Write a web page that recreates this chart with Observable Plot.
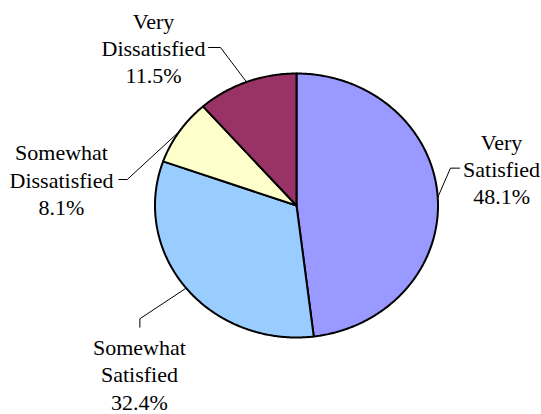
<!DOCTYPE html>
<html><head><meta charset="utf-8">
<script src="https://cdn.jsdelivr.net/npm/d3@7"></script>
<script src="https://cdn.jsdelivr.net/npm/@observablehq/plot@0.6"></script>
<style>html,body{margin:0;padding:0;background:#fff;}</style>
</head><body><div id="chart"></div>
<script>
// ---- data ----
const categories = ["Very Satisfied", "Somewhat Satisfied", "Somewhat Dissatisfied", "Very Dissatisfied"];
const labelText = ["Very\nSatisfied", "Somewhat\nSatisfied", "Somewhat\nDissatisfied", "Very\nDissatisfied"];
const percents = [48.1, 32.4, 8.1, 11.5];

// ---- style / layout (unit-radius pie coordinates) ----
const colors = ["#9999FF", "#99CCFF", "#FFFFCC", "#993366"];
const labelPos = [[1.449, 0.283], [-1.110, -1.275], [-1.661, 0.202], [-1.011, 1.199]];
const leaderElbow = [[1.088, 0.283], [-1.107, -0.858], [-1.196, 0.197], [-0.537, 1.197]];
const leaderEnd = [[1.152, 0.283], [-1.107, -0.922], [-1.256, 0.197], [-0.622, 1.197]];

const W = 541, H = 414, cx = 296, cy = 205, rx = 141.5, ry = 132;

const total = d3.sum(percents);
let acc = 0;
const slices = percents.map((p, i) => {
  const a0 = acc / total * 2 * Math.PI;
  acc += p;
  const a1 = acc / total * 2 * Math.PI;
  return {i, name: categories[i], p, a0, a1, mid: (a0 + a1) / 2};
});

function slicePoints(s) {
  const pts = [{x: 0, y: 0}];
  const n = Math.max(2, Math.ceil((s.a1 - s.a0) / (Math.PI / 360)));
  for (let k = 0; k <= n; k++) {
    const a = s.a0 + (s.a1 - s.a0) * k / n;
    pts.push({x: Math.sin(a), y: Math.cos(a)});
  }
  pts.push({x: 0, y: 0});
  return pts;
}

const leaders = slices.map(s => [
  {x: Math.sin(s.mid), y: Math.cos(s.mid)},
  {x: leaderElbow[s.i][0], y: leaderElbow[s.i][1]},
  {x: leaderEnd[s.i][0], y: leaderEnd[s.i][1]}
]);

const labels = slices.map(s => ({
  x: labelPos[s.i][0], y: labelPos[s.i][1],
  text: labelText[s.i] + "\n" + s.p.toFixed(1) + "%"
}));

const marks = [];
slices.forEach(s => {
  marks.push(Plot.line(slicePoints(s), {x: "x", y: "y", fill: colors[s.i], stroke: "black", strokeWidth: 2, strokeLinejoin: "round"}));
});
leaders.forEach(l => {
  marks.push(Plot.line(l, {x: "x", y: "y", stroke: "black", strokeWidth: 1}));
});
marks.push(Plot.text(labels, {
  x: "x", y: "y", text: "text", fontSize: 22,
  fontFamily: "Liberation Serif",
  lineHeight: 1.23, textAnchor: "middle", fill: "black"
}));

const chart = Plot.plot({
  width: W, height: H, margin: 0,
  x: {domain: [-cx / rx, (W - cx) / rx], axis: null},
  y: {domain: [-(H - cy) / ry, cy / ry], axis: null},
  marks
});
document.getElementById("chart").appendChild(chart);
</script>
</body></html>
